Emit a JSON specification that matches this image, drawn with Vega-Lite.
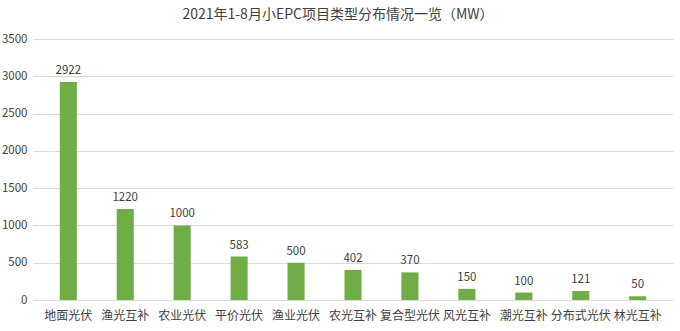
{
  "$schema": "https://vega.github.io/schema/vega-lite/v6.json",
  "autosize": {"type": "none"},
  "width": 640,
  "height": 261,
  "padding": {"left": 33, "top": 39, "right": 7, "bottom": 31},
  "background": "white",
  "title": {
    "text": "2021年1-8月小EPC项目类型分布情况一览（MW）",
    "font": "Noto Sans CJK SC",
    "fontSize": 14,
    "fontWeight": "normal",
    "color": "#404040",
    "anchor": "middle",
    "dx": -15,
    "offset": 11
  },
  "data": {
    "values": [
      {"type": "地面光伏", "mw": 2922},
      {"type": "渔光互补", "mw": 1220},
      {"type": "农业光伏", "mw": 1000},
      {"type": "平价光伏", "mw": 583},
      {"type": "渔业光伏", "mw": 500},
      {"type": "农光互补", "mw": 402},
      {"type": "复合型光伏", "mw": 370},
      {"type": "风光互补", "mw": 150},
      {"type": "潮光互补", "mw": 100},
      {"type": "分布式光伏", "mw": 121},
      {"type": "林光互补", "mw": 50}
    ]
  },
  "config": {
    "view": {"stroke": null},
    "font": "Noto Sans CJK SC"
  },
  "encoding": {
    "x": {
      "field": "type",
      "type": "nominal",
      "sort": null,
      "scale": {"paddingInner": 0.7, "paddingOuter": 0.47},
      "axis": {
        "title": null,
        "labelAngle": 0,
        "labelFont": "Noto Sans CJK SC",
        "labelFontSize": 12,
        "labelColor": "#404040",
        "labelPadding": 10,
        "ticks": false,
        "domain": false
      }
    },
    "y": {
      "field": "mw",
      "type": "quantitative",
      "scale": {"domain": [0, 3500]},
      "axis": {
        "title": null,
        "format": "d",
        "values": [0, 500, 1000, 1500, 2000, 2500, 3000, 3500],
        "labelFont": "Noto Sans CJK SC",
        "labelFontSize": 11.5,
        "labelColor": "#404040",
        "labelPadding": 6,
        "ticks": false,
        "domain": false,
        "gridColor": "#D9D9D9",
        "gridWidth": 1
      }
    }
  },
  "layer": [
    {"mark": {"type": "bar", "color": "#70AD47"}},
    {
      "mark": {"type": "text", "dy": -11, "fontSize": 11.5, "color": "#404040", "font": "Noto Sans CJK SC"},
      "encoding": {"text": {"field": "mw", "type": "quantitative", "format": "d"}}
    }
  ]
}
